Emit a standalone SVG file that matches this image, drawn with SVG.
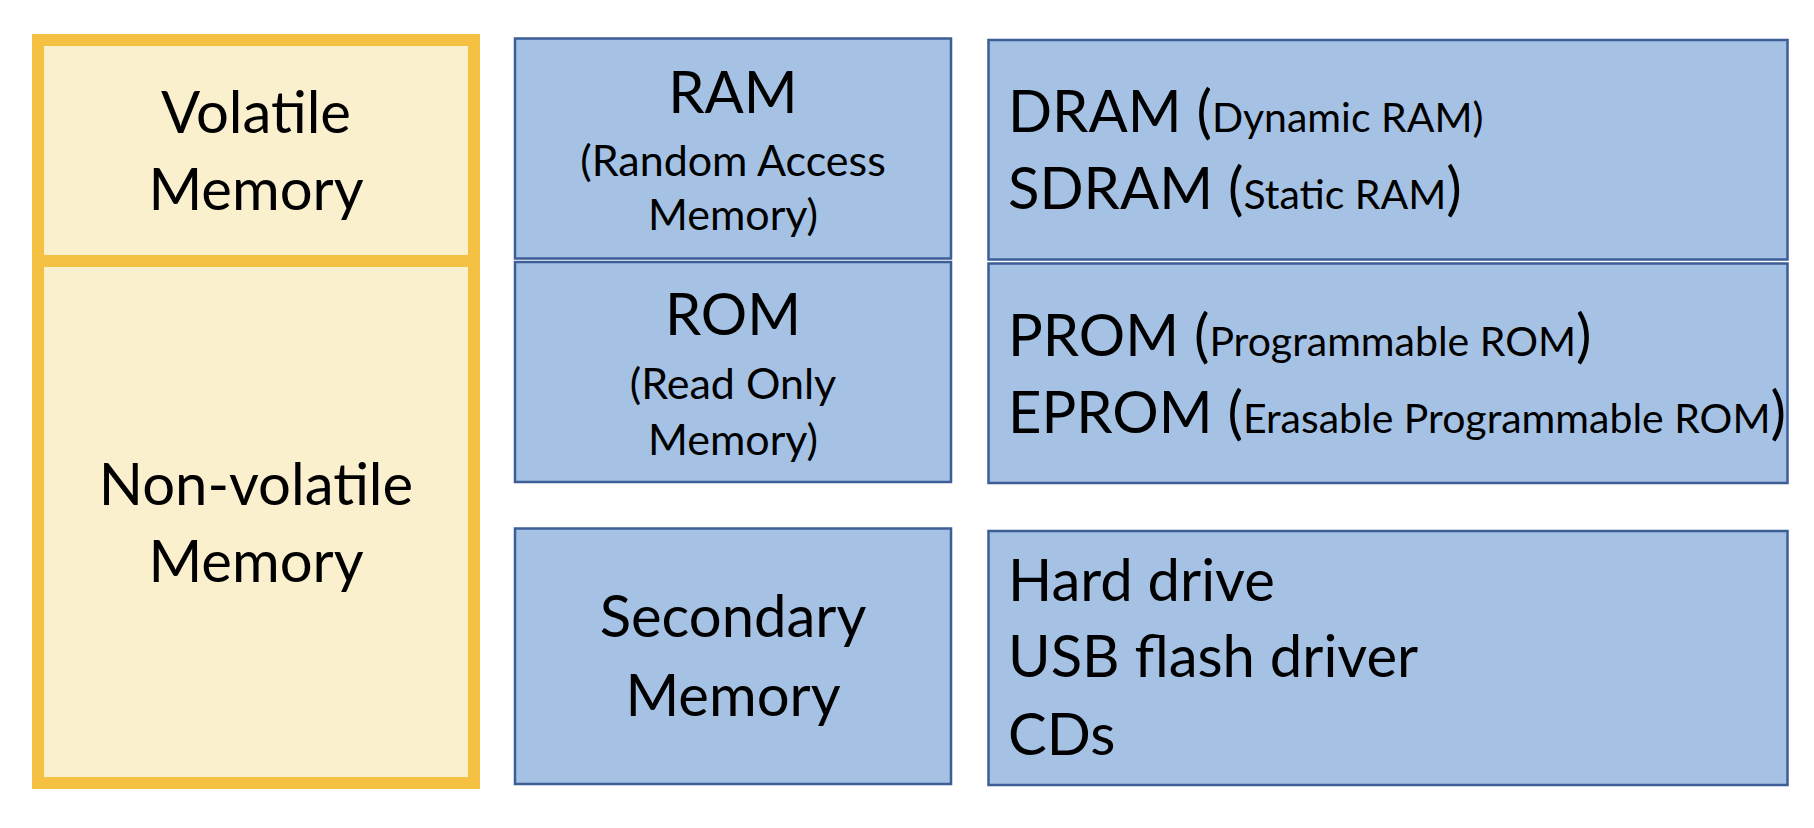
<svg xmlns="http://www.w3.org/2000/svg" width="1814" height="828" viewBox="0 0 1814 828">
<style>
.yel{fill:#FBF0CE;stroke:#F5C143;stroke-width:12}
.blue{fill:#A5C2E4;stroke:#3D5E97;stroke-width:2.5}
text{font-family:Lato,"Liberation Sans",sans-serif;fill:#000}
.big{font-size:58px}
.mid{font-size:43px}
.c{text-anchor:middle}
.s{font-size:41px}
</style>
<rect width="1814" height="828" fill="#fff"/>
<g id="yellow">
<rect class="yel" x="38" y="40" width="436" height="743"/>
<line x1="38" y1="261" x2="474" y2="261" stroke="#F5C143" stroke-width="12"/>
</g>
<g id="volatile">
<text class="big c" x="256" y="133">Volatile</text>
<text class="big c" x="256" y="210">Memory</text>
</g>
<g id="nonvolatile">
<text class="big c" x="256" y="505">Non-volatile</text>
<text class="big c" x="256" y="582">Memory</text>
</g>
<g id="ram">
<rect class="blue" x="515" y="38.5" width="436" height="220"/>
<text class="big c" x="733" y="113">RAM</text>
<text class="mid c" x="733" y="176">(Random Access</text>
<text class="mid c" x="733" y="230">Memory)</text>
</g>
<g id="rom">
<rect class="blue" x="515" y="262" width="436" height="220"/>
<text class="big c" x="733" y="335">ROM</text>
<text class="mid c" x="733" y="399">(Read Only</text>
<text class="mid c" x="733" y="455">Memory)</text>
</g>
<g id="secondary">
<rect class="blue" x="515" y="528.5" width="436" height="255.5"/>
<text class="big c" x="733" y="637">Secondary</text>
<text class="big c" x="733" y="716">Memory</text>
</g>
<g id="ram-types">
<rect class="blue" x="988.5" y="40" width="799" height="219.5"/>
<text class="big" x="1008" y="132">DRAM (<tspan class="s">Dynamic RAM)</tspan></text>
<text class="big" x="1008" y="209">SDRAM (<tspan class="s">Static RAM</tspan>)</text>
</g>
<g id="rom-types">
<rect class="blue" x="988.5" y="263.5" width="799" height="219.5"/>
<text class="big" x="1008" y="356">PROM (<tspan class="s">Programmable ROM</tspan>)</text>
<text class="big" x="1008" y="433">EPROM (<tspan class="s">Erasable Programmable ROM</tspan>)</text>
</g>
<g id="secondary-types">
<rect class="blue" x="988.5" y="531" width="799" height="254"/>
<text class="big" x="1008" y="601">Hard drive</text>
<text class="big" x="1008" y="677">USB flash driver</text>
<text class="big" x="1008" y="755">CDs</text>
</g>
<g id="connectors"></g>
</svg>
